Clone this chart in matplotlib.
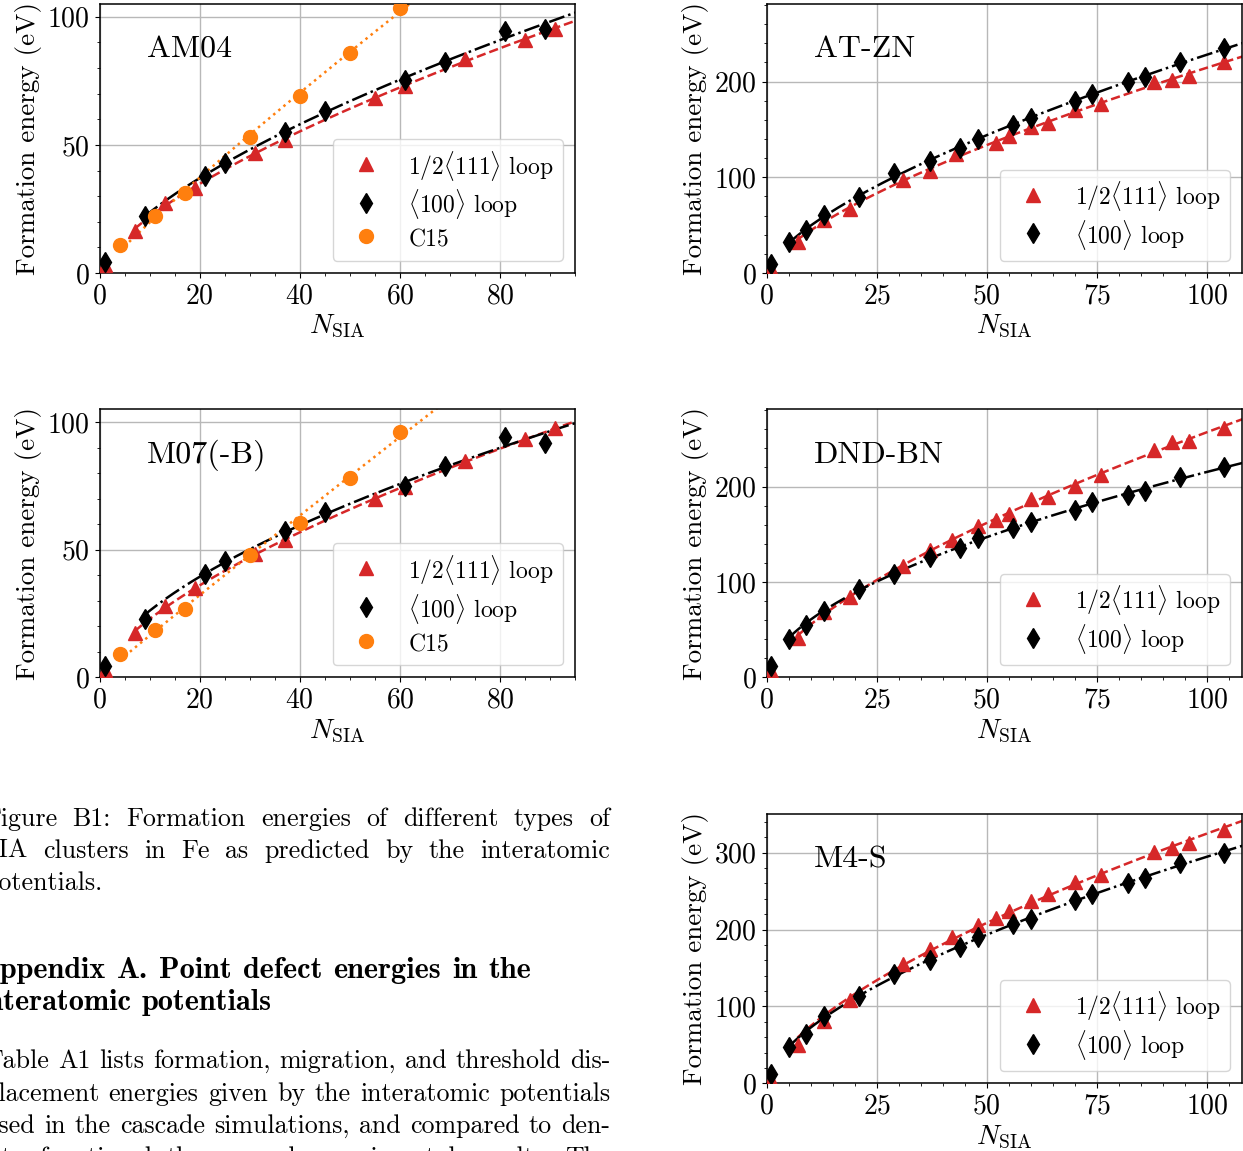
import numpy as np
import matplotlib
matplotlib.use("Agg")
import matplotlib.pyplot as plt
from matplotlib.lines import Line2D
from matplotlib.ticker import MultipleLocator

plt.rcParams["font.family"] = "serif"
plt.rcParams["font.serif"] = ["cmr10"]
plt.rcParams["mathtext.fontset"] = "cm"
plt.rcParams["axes.formatter.use_mathtext"] = True

RED = "#d62728"
ORANGE = "#ff7f0e"

# --- data (N_SIA, formation energy in eV) ---
am04_l111_n = [1, 7, 13, 19, 31, 37, 55, 61, 73, 85, 91]
am04_l111_e = [3.0, 16.4, 27.2, 33.0, 47.0, 52.0, 68.5, 73.0, 83.5, 91.0, 95.3]
am04_l100_n = [1, 9, 21, 25, 37, 45, 61, 69, 81, 89]
am04_l100_e = [4.3, 22.2, 37.9, 42.8, 55.0, 63.3, 75.3, 82.4, 94.4, 95.3]
am04_c15_n = [4, 11, 17, 30, 40, 50, 60]
am04_c15_e = [10.8, 22.3, 31.3, 53.0, 69.2, 85.9, 103.3]

m07_l111_n = [1, 7, 13, 19, 31, 37, 55, 61, 73, 85, 91]
m07_l111_e = [2.7, 17.3, 27.8, 34.9, 48.4, 53.8, 69.9, 74.4, 84.7, 93.2, 97.5]
m07_l100_n = [1, 9, 21, 25, 37, 45, 61, 69, 81, 89]
m07_l100_e = [4.6, 22.8, 40.5, 45.4, 57.4, 64.7, 75.0, 82.8, 94.3, 91.9]
m07_c15_n = [4, 11, 17, 30, 40, 50, 60]
m07_c15_e = [9.1, 18.6, 26.9, 48.0, 60.6, 78.2, 96.0]

atzn_l111_n = [1, 7, 13, 19, 31, 37, 43, 52, 55, 60, 64, 70, 76, 88, 92, 96, 104]
atzn_l111_e = [4, 32, 55, 67, 97, 107, 124, 136, 143, 152, 157, 170, 177, 199, 202, 206, 220]
big_l111_n = [1, 7, 13, 19, 31, 37, 42, 48, 52, 55, 60, 64, 70, 76, 88, 92, 96, 104]
big_l100_n = [1, 5, 9, 13, 21, 29, 37, 44, 48, 56, 60, 70, 74, 82, 86, 94, 104]
atzn_l100_e = [9.4, 32, 44.4, 60.7, 79.7, 104, 116.8, 130.7, 140.4, 154.6, 161.9, 180,
               186.5, 200, 205.2, 220, 234.7]

dnd_l111_e = [6.3, 41, 68.5, 83.8, 116.9, 133, 144.3, 158.3, 165.2, 171.5, 187.1, 188.9,
              201, 212.5, 238.3, 246.3, 248, 261.9]
dnd_l100_e = [11.5, 40, 55.3, 70, 92.9, 108.2, 126.3, 136, 146, 156.2, 162.4, 175.7,
              183.7, 191.3, 195.1, 210.4, 220.2]

m4s_l111_e = [4.3, 50, 81.7, 108.7, 155.7, 174.3, 190.4, 205.7, 215.7, 223.9, 237.4, 245.7,
              261.3, 270.9, 300.4, 305.7, 313, 329.6]
m4s_l100_e = [12.2, 47, 64.3, 87, 113, 141.7, 160, 177.4, 190.4, 207.8, 214.3, 239.1,
              246.1, 260, 266.5, 287, 300]

W, H = 1243, 1151


def fit_curve(n, e, n_end):
    # power-law fit E = a*N^b on clusters larger than one SIA
    # (log fit weighted by E, so it behaves like an absolute-error fit)
    n = np.asarray(n, float)
    e = np.asarray(e, float)
    m = n > 1
    b, loga = np.polyfit(np.log(n[m]), np.log(e[m]), 1, w=e[m])
    xs = np.linspace(n[m].min(), n_end, 300)
    return xs, np.exp(loga) * xs ** b


def panel(rect_px, name, series, xlim, ylim, xstep, ystep):
    x0, y0, x1, y1 = rect_px
    ax = fig.add_axes([x0 / W, 1 - y1 / H, (x1 - x0) / W, (y1 - y0) / H])
    styles = {
        "l111": dict(color=RED, marker="^", ls="--", label=r"1/2$\langle 111\rangle$ loop"),
        "l100": dict(color="black", marker="d", ls="-.", label=r"$\langle 100\rangle$ loop"),
        "c15": dict(color=ORANGE, marker="o", ls=":", label="C15"),
    }
    handles = []
    for key, n, e in series:
        st = styles[key]
        xs, ys = fit_curve(n, e, xlim[1] + 5)
        ax.plot(xs, ys, color=st["color"], ls=st["ls"], lw=1.8, zorder=2)
        ax.plot(n, e, ls="none", marker=st["marker"], color=st["color"], ms=10, zorder=3)
        handles.append(Line2D([], [], ls="none", marker=st["marker"], color=st["color"],
                              ms=10, label=st["label"]))
    ax.set_xlim(*xlim)
    ax.set_ylim(*ylim)
    ax.xaxis.set_major_locator(MultipleLocator(xstep))
    ax.yaxis.set_major_locator(MultipleLocator(ystep))
    ax.minorticks_on()
    ax.grid(True, which="major", color="#b8b8b8", lw=1.0)
    ax.set_axisbelow(True)
    ax.tick_params(labelsize=20)
    for sp in ax.spines.values():
        sp.set_linewidth(1.1)
    ax.set_xlabel(r"$N_{\rm SIA}$", fontsize=20, labelpad=3)
    ax.set_ylabel("Formation energy (eV)", fontsize=19.5)
    ax.text(0.10, 0.83, name, transform=ax.transAxes, fontsize=23, ha="left", va="center")
    ax.legend(handles=handles, loc="lower right", fontsize=17, labelspacing=0.2,
              handleheight=1.3)
    return ax


fig = plt.figure(figsize=(W / 100, H / 100), dpi=100)

panel((99.7, 4, 575, 273), "AM04",
      [("l111", am04_l111_n, am04_l111_e), ("l100", am04_l100_n, am04_l100_e),
       ("c15", am04_c15_n, am04_c15_e)], (0, 95), (0, 105), 20, 50)
panel((766.7, 4, 1242, 273), "AT-ZN",
      [("l111", atzn_l111_n, atzn_l111_e), ("l100", big_l100_n, atzn_l100_e)],
      (0, 108), (0, 281), 25, 100)
panel((99.7, 409.3, 575, 677.3), "M07(-B)",
      [("l111", m07_l111_n, m07_l111_e), ("l100", m07_l100_n, m07_l100_e),
       ("c15", m07_c15_n, m07_c15_e)], (0, 95), (0, 105), 20, 50)
panel((766.7, 409.3, 1242, 677.3), "DND-BN",
      [("l111", big_l111_n, dnd_l111_e), ("l100", big_l100_n, dnd_l100_e)],
      (0, 108), (0, 281), 25, 100)
panel((766.7, 814.3, 1242, 1083.3), "M4-S",
      [("l111", big_l111_n, m4s_l111_e), ("l100", big_l100_n, m4s_l100_e)],
      (0, 108), (0, 350), 25, 100)

# --- page text next to the figure (cropped at the left edge) ---
caption_lines = [
    "Figure B1:  Formation energies of different types of",
    "SIA clusters in Fe as predicted by the interatomic",
    "potentials.",
]
heading_lines = [
    "Appendix A. Point defect energies in the",
    "interatomic potentials",
]
body_lines = [
    "Table A1 lists formation, migration, and threshold dis-",
    "placement energies given by the interatomic potentials",
    "used in the cascade simulations, and compared to den-",
    "sity functional theory and experimental results. The",
]

renderer = fig.canvas.get_renderer()


def put_line(text, y_base, left, right, justify, size, family):
    words = text.split()
    objs = [fig.text(0, 1 - y_base / H, w, fontsize=size, family=family,
                     ha="left", va="baseline") for w in words]
    widths = [o.get_window_extent(renderer).width for o in objs]
    if justify and len(words) > 1:
        gap = (right - left - sum(widths)) / (len(words) - 1)
    else:
        gap = size * 100 / 72 * 0.36
    x = left
    for o, w in zip(objs, widths):
        o.set_x(x / W)
        x += w + gap


cap_base = [826, 858, 890]
for i, line in enumerate(caption_lines):
    put_line(line, cap_base[i], -16, 610, i < len(caption_lines) - 1, 18.7, "cmr10")

head_base = [978, 1010]
for i, line in enumerate(heading_lines):
    put_line(line, head_base[i], -22, 610, False, 21.8, "cmb10")

body_base = [1068, 1101, 1133, 1165]
for i, line in enumerate(body_lines):
    put_line(line, body_base[i], -16, 610, True, 18.7, "cmr10")

fig.savefig("out.png", dpi=100)
